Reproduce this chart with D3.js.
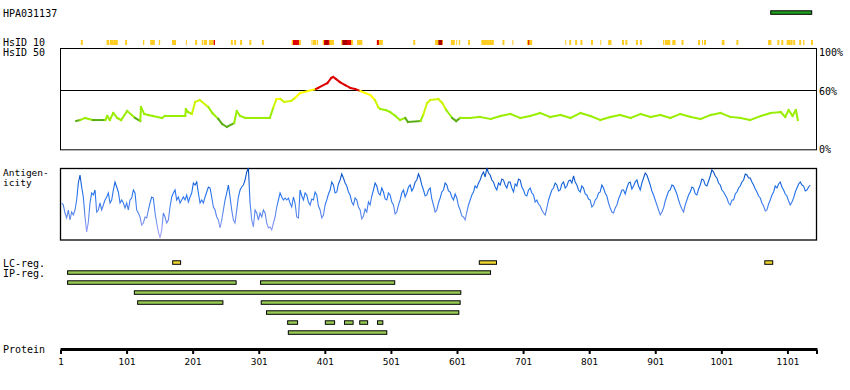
<!DOCTYPE html>
<html><head><meta charset="utf-8">
<script src="https://cdn.jsdelivr.net/npm/d3@7/dist/d3.min.js"></script>
<style>
body{margin:0;background:#fff}
svg{display:block}
text{font-family:"DejaVu Sans Mono",monospace;font-size:10px;fill:#000}
</style>
</head><body>
<svg id="c" width="850" height="390"></svg>
<script>
// ---------------- DATA ----------------
const proteinName = "HPA031137";
const proteinLength = 1145;
const axisTicks = [1,101,201,301,401,501,601,701,801,901,1001,1101];
const percentLabels = ["100%","60%","0%"];
const rowLabels = ["HsID 10","HsID 50","Antigen-","icity","LC-reg.","IP-reg.","Protein"];

// antigen (PrEST) region, top right
const prestRegion = [1075,1137];

// HsID 10 segments [start,end]
const hsid10Orange = [[31,34],[70,74],[75,81],[81,87],[98,101],[125,127],[136,143],[149,151],[169,175],[190,191],[204,207],[214,216],[217,222],[225,232],[258,261],[263,266],[272,275],[286,289],[305,308],[350,364],[380,381],[382,387],[388,390],[397,414],[425,443],[449,457],[479,488],[534,537],[567,579],[591,597],[599,600],[603,605],[617,620],[637,656],[669,672],[684,685],[706,714],[764,765],[770,773],[779,782],[787,790],[803,806],[817,818],[829,834],[850,853],[855,858],[871,874],[877,880],[912,914],[915,923],[926,931],[940,943],[965,968],[971,972],[974,977],[1001,1005],[1023,1026],[1071,1076],[1085,1088],[1091,1094],[1099,1105],[1105,1108],[1109,1112],[1118,1121],[1124,1126],[1136,1139]];
const hsid10Red = [[232,234],[352,361],[399,407],[427,440],[479,482],[708,709]];
const hsid10DarkRed = [[401,405],[427,434],[572,578]];

// HsID 50 identity (%) [residue, value]
const hsid50 = [[24,29.2],[30,30.2],[37,32.3],[49,30.2],[68,30.2],[71,34.3],[75,30.2],[80,37.3],[86,32.3],[92,30.2],[101,39.3],[113,32.3],[121,29.2],[122,43.3],[127,36.3],[133,35.3],[140,34.3],[154,32.3],[158,34.3],[189,34.3],[190,41.3],[193,38.3],[199,36.3],[204,48.4],[211,50.4],[224,43.3],[230,37.3],[239,31.3],[245,26.2],[252,23.2],[263,27.2],[267,39.3],[272,34.3],[280,32.3],[317,32.3],[322,42.3],[327,51.4],[333,51.4],[339,48.4],[349,49.4],[355,52.4],[363,57.5],[387,61.5],[390,62.5],[404,67.5],[410,72.6],[413,73.6],[417,71.6],[423,68.5],[431,65.5],[439,62.5],[446,61.5],[454,59.5],[461,57.5],[469,55.4],[476,50.4],[481,43.3],[484,41.3],[492,40.3],[499,38.3],[507,34.3],[514,30.2],[522,32.3],[526,28.2],[545,29.2],[549,35.3],[555,47.4],[560,50.4],[572,51.4],[578,47.4],[584,40.3],[593,32.3],[599,29.2],[605,32.3],[620,32.3],[635,33.3],[651,31.3],[666,34.3],[681,36.3],[696,32.3],[711,34.3],[726,37.3],[741,33.3],[757,35.3],[772,32.3],[787,37.3],[802,34.3],[817,30.2],[832,33.3],[847,35.3],[863,32.3],[878,36.3],[893,33.3],[908,35.3],[923,32.3],[938,36.3],[954,33.3],[969,31.3],[984,35.3],[999,37.3],[1014,33.3],[1029,32.3],[1044,30.2],[1060,34.3],[1075,37.3],[1090,38.3],[1097,33.3],[1102,40.3],[1108,34.3],[1113,40.3],[1116,30.2]];

// Antigenicity score (0..72)
// part A: from residue 2, every 2.523 residues
const antigenStartA = 2.0, antigenStepA = 2.523;
const antigenScoreA = [37,35,27,22,30,20,28,25,30,40,57,65,53,43,23,8,18,37,47,45,50,28,30,37,30,35,40,43,47,37,40,50,58,53,48,37,40,37,32,37,30,40,42,50,47,30,27,23,15,17,23,22,30,37,43,42,27,17,8,2,10,27,23,17,20,33,43,47,50,40,43,37,40,43,40,45,38,43,47,57,55,58,47,37,40,37,43,48,53,52,43,33,30,23,20,12,20,30,40,47,55,43,30,20,17,30,43,50,53,55,60,68,72,37,20,13,30,27,20,27,23,30,27,17,12,13,10,17,23,33,40,47,43,40,42,40,42,37,33,43,37,23,22];
// part B: from residue 363, every 2.523 residues
const antigenStartB = 362.8, antigenStepB = 2.523;
const antigenScoreB = [
50,44,40,47,45,38,35,41,40,48,45,34,30,22,25,35,40,46,
50,58,55,47,48,56,60,66,62,57,54,48,45,38,35,42,40,33,
30,21,24,31,28,38,35,44,50,57,54,47,45,52,48,41,40,47,
45,38,35,26,28,35,40,47,50,43,47,53,55,49,52,58,60,66,
62,55,50,44,45,50,52,41,35,28,30,37,42,48,50,57,55,49,
48,43,40,46,42,34,30,24,23,20,28,35,40,45,48,54,52,57,
60,65,68,63,72,67,65,60,58,53,50,57,55,61,60,55,52,58,
58,52,48,56,54,61,60,53,50,45,44,50,52,47,45,38,40,36,
34,30,27,25,32,40,45,50,52,57,55,49,50,56,58,52,54,59,
60,57,64,58,55,50,48,54,52,46,45,41,40,33,35,40,42,47,
48,55,52,47,44,37,32,28,27,32,35,41,45,50,50,46,52,57,
58,51,54,58,60,54,50,57,62,67,65,60,55,49,45,40,35,30,
25,28,32,39,44,49,50,55,54,50,46,40,35,31,28,35,40,45,
48,53,52,46,45,51,55,61,60,55,54,59,64,70,68,64,62,57,
55,50,48,45,42,37,35,40,40,46,48,52,54,58,60,66,65,62,
62,58,55,51,48,44,42,37,34,29,30,36,40,45,48,54,52,56,
58,53,50,46,44,39,35,38,42,48,52,56,58,55,54,49,50,53,55];

// IP regions (row, start, end)
const ipRow   = [0,1,1,2,3,3,4,5,5,5,5,5,6];
const ipStart = [11,11,303,112,117,304,312,344,401,430,453,480,345];
const ipEnd   = [651,266,506,606,246,605,603,359,415,443,465,488,494];
// LC regions
const lcStart = [170,634,1066];
const lcEnd   = [182,660,1078];

// ---------------- DRAW ----------------
const svg = d3.select("#c");
const x = d3.scaleLinear().domain([1, proteinLength]).range([61, 817]);
const yH = d3.scaleLinear().domain([0, 100]).range([150, 50.8]);
const yA = d3.scaleLinear().domain([0, 72]).range([240, 168]);

// labels
svg.append("text").attr("x",3).attr("y",16.5).text(proteinName);
const lblY = [46,56,175.5,186,266.5,276.5,352.5];
rowLabels.forEach((t,i)=>svg.append("text").attr("x",3).attr("y",lblY[i])
  .style("font-size", (i===2||i===3) ? "9.5px" : null).text(t));

// PrEST bar
svg.append("rect").attr("x",x(prestRegion[0])).attr("y",10.8)
  .attr("width",x(prestRegion[1])-x(prestRegion[0])).attr("height",3.5)
  .attr("fill","#1f9e1f").attr("stroke","#000").attr("stroke-width",1);

// HsID 10
function segs(data, color){
  svg.append("g").selectAll("rect").data(data).join("rect")
    .attr("x",d=>x(d[0])).attr("width",d=>Math.max(1,x(d[1])-x(d[0])))
    .attr("y",40).attr("height",5).attr("fill",color);
}
segs(hsid10Orange,"#ffcc22");
segs(hsid10Red,"#dd0000");
segs(hsid10DarkRed,"#a80000");

// HsID 50 frame
svg.append("rect").attr("x",60.5).attr("y",48.5).attr("width",756).attr("height",101.3)
  .attr("fill","none").attr("stroke","#000").attr("stroke-width",1);
svg.append("line").attr("x1",60.5).attr("x2",816.5).attr("y1",Math.round(yH(60))+0.5).attr("y2",Math.round(yH(60))+0.5)
  .attr("stroke","#000").attr("stroke-width",1);
const pctY = [56,94.5,152.5];
percentLabels.forEach((t,i)=>svg.append("text").attr("x",819).attr("y",pctY[i]).text(t));

const hsColor = d3.scaleThreshold().domain([31,41,51,60])
  .range(["#5aad14","#99ee00","#ccf500","#ffff00","#dd0000"]);
const hsG = svg.append("g");
for (let i=0;i<hsid50.length-1;i++){
  const a=hsid50[i], b=hsid50[i+1];
  hsG.append("line").attr("x1",x(a[0])).attr("y1",yH(a[1])).attr("x2",x(b[0])).attr("y2",yH(b[1]))
    .attr("stroke",hsColor((a[1]+b[1])/2)).attr("stroke-width",2).attr("stroke-linecap","square");
}

// Antigenicity frame
svg.append("rect").attr("x",60.5).attr("y",168.5).attr("width",756).attr("height",71.5)
  .attr("fill","none").attr("stroke","#000").attr("stroke-width",1.3);
const defs = svg.append("defs");
const gr = defs.append("linearGradient").attr("id","ag").attr("gradientUnits","userSpaceOnUse")
  .attr("x1",0).attr("x2",0).attr("y1",168).attr("y2",240);
[[0,"#0048b8"],[0.35,"#2274ee"],[0.65,"#5a86ea"],[1,"#b4a8ff"]].forEach(s=>
  gr.append("stop").attr("offset",s[0]).attr("stop-color",s[1]));
const antigen = antigenScoreA.map((v,i)=>[antigenStartA+i*antigenStepA, v])
  .concat(antigenScoreB.map((v,i)=>[antigenStartB+i*antigenStepB, v]));
svg.append("path").datum(antigen)
  .attr("d",d3.line().x(d=>x(d[0])).y(d=>yA(d[1])))
  .attr("fill","none").attr("stroke","url(#ag)").attr("stroke-width",1.1);

// LC regions
svg.append("g").selectAll("rect").data(lcStart).join("rect")
  .attr("x",(d)=>x(d)).attr("width",(d,i)=>x(lcEnd[i])-x(d))
  .attr("y",260.8).attr("height",3.5)
  .attr("fill","#f0d830").attr("stroke","#000").attr("stroke-width",1);
// IP regions
svg.append("g").selectAll("rect").data(ipStart).join("rect")
  .attr("x",(d)=>x(d)).attr("width",(d,i)=>x(ipEnd[i])-x(d))
  .attr("y",(d,i)=>270.8+ipRow[i]*10).attr("height",3.5)
  .attr("fill","#99cc55").attr("stroke","#000").attr("stroke-width",1);

// Protein axis
svg.append("rect").attr("x",x(1)-0.5).attr("y",348).attr("width",x(proteinLength)-x(1)+1).attr("height",3).attr("fill","#000");
const ticks = axisTicks.concat([proteinLength]);
svg.append("g").selectAll("rect").data(ticks).join("rect")
  .attr("x",d=>x(d)-1).attr("y",350).attr("width",2).attr("height",4).attr("fill","#000");
svg.append("g").selectAll("text").data(axisTicks).join("text")
  .attr("x",d=>x(d)).attr("y",365).attr("text-anchor","middle")
  .style("font-family","'DejaVu Sans',sans-serif").style("font-size","9px").text(d=>d);
</script>
</body></html>
